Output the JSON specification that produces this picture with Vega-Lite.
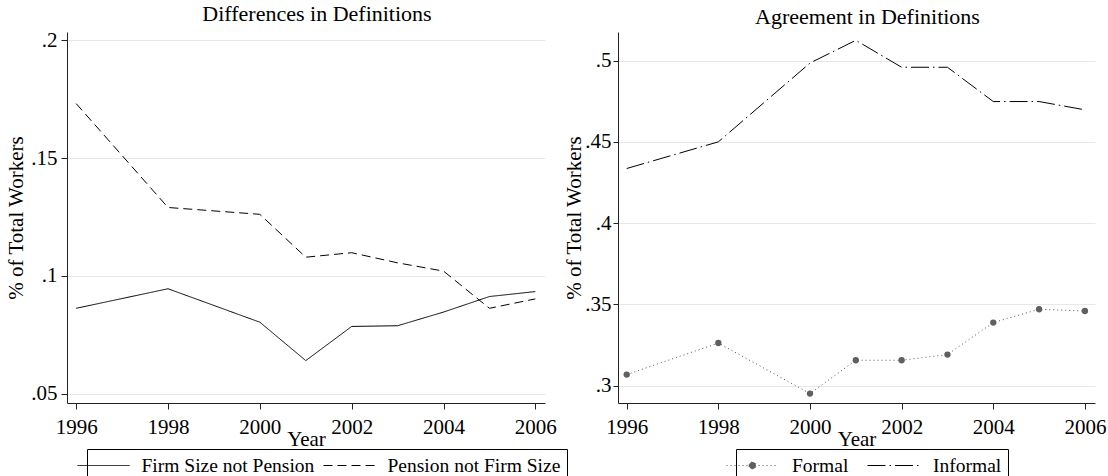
{
  "$schema": "https://vega.github.io/schema/vega-lite/v6.json",
  "padding": {"left": 5, "top": 3, "right": 5, "bottom": 5},
  "spacing": -5,
  "config": {
    "font": "Liberation Serif",
    "view": {"stroke": null},
    "style": {
      "guide-label": {"font": "Liberation Serif", "fill": "black"},
      "guide-title": {"font": "Liberation Serif", "fill": "black"},
      "group-title": {"font": "Liberation Serif", "fill": "black"}
    },
    "axis": {
      "labelFont": "Liberation Serif",
      "titleFont": "Liberation Serif",
      "labelFontSize": 21,
      "titleFontSize": 21,
      "titleFontWeight": "normal",
      "labelColor": "black",
      "titleColor": "black",
      "domainColor": "#222",
      "tickColor": "#222",
      "gridColor": "#e8e8e8",
      "tickSize": 6,
      "labelPadding": 3
    },
    "axisX": {"grid": false},
    "title": {"font": "Liberation Serif", "fontSize": 22, "fontWeight": "normal", "color": "black"},
    "legend": {
      "labelFont": "Liberation Serif",
      "labelFontSize": 19.5,
      "labelColor": "black",
      "labelLimit": 400,
      "orient": "none",
      "direction": "horizontal",
      "strokeColor": "black",
      "padding": 6,
      "symbolSize": 400,
      "symbolStrokeWidth": 1,
      "title": null
    }
  },
  "datasets": {
    "diff": [
      {"year": 1996, "value": 0.0862, "series": "Firm Size not Pension"},
      {"year": 1998, "value": 0.0945, "series": "Firm Size not Pension"},
      {"year": 2000, "value": 0.0803, "series": "Firm Size not Pension"},
      {"year": 2001, "value": 0.0640, "series": "Firm Size not Pension"},
      {"year": 2002, "value": 0.0785, "series": "Firm Size not Pension"},
      {"year": 2003, "value": 0.0788, "series": "Firm Size not Pension"},
      {"year": 2004, "value": 0.0846, "series": "Firm Size not Pension"},
      {"year": 2005, "value": 0.0912, "series": "Firm Size not Pension"},
      {"year": 2006, "value": 0.0933, "series": "Firm Size not Pension"},
      {"year": 1996, "value": 0.1731, "series": "Pension not Firm Size"},
      {"year": 1998, "value": 0.1290, "series": "Pension not Firm Size"},
      {"year": 2000, "value": 0.1261, "series": "Pension not Firm Size"},
      {"year": 2001, "value": 0.1079, "series": "Pension not Firm Size"},
      {"year": 2002, "value": 0.1098, "series": "Pension not Firm Size"},
      {"year": 2003, "value": 0.1055, "series": "Pension not Firm Size"},
      {"year": 2004, "value": 0.1020, "series": "Pension not Firm Size"},
      {"year": 2005, "value": 0.0862, "series": "Pension not Firm Size"},
      {"year": 2006, "value": 0.0902, "series": "Pension not Firm Size"}
    ],
    "agree": [
      {"year": 1996, "value": 0.3068, "series": "Formal"},
      {"year": 1998, "value": 0.3262, "series": "Formal"},
      {"year": 2000, "value": 0.2951, "series": "Formal"},
      {"year": 2001, "value": 0.3156, "series": "Formal"},
      {"year": 2002, "value": 0.3156, "series": "Formal"},
      {"year": 2003, "value": 0.3191, "series": "Formal"},
      {"year": 2004, "value": 0.3388, "series": "Formal"},
      {"year": 2005, "value": 0.3470, "series": "Formal"},
      {"year": 2006, "value": 0.3459, "series": "Formal"},
      {"year": 1996, "value": 0.4336, "series": "Informal"},
      {"year": 1998, "value": 0.4500, "series": "Informal"},
      {"year": 2000, "value": 0.4985, "series": "Informal"},
      {"year": 2001, "value": 0.5125, "series": "Informal"},
      {"year": 2002, "value": 0.4959, "series": "Informal"},
      {"year": 2003, "value": 0.4959, "series": "Informal"},
      {"year": 2004, "value": 0.4748, "series": "Informal"},
      {"year": 2005, "value": 0.4748, "series": "Informal"},
      {"year": 2006, "value": 0.4697, "series": "Informal"}
    ]
  },
  "hconcat": [
    {
      "width": 478,
      "height": 371,
      "title": {"text": "Differences in Definitions", "frame": "group", "dx": 11, "offset": 3},
      "data": {"name": "diff"},
      "mark": {"type": "line", "strokeWidth": 1, "color": "black"},
      "encoding": {
        "x": {
          "field": "year", "type": "quantitative",
          "scale": {"domain": [1995.8, 2006.21], "nice": false, "zero": false},
          "axis": {"values": [1996, 1998, 2000, 2002, 2004, 2006], "format": "d", "title": "Year", "labelPadding": 7, "titlePadding": -9, "grid": false, "labelFont": "Liberation Serif", "titleFont": "Liberation Serif"}
        },
        "y": {
          "field": "value", "type": "quantitative",
          "scale": {"domain": [0.046, 0.2035], "nice": false, "zero": false},
          "axis": {"values": [0.05, 0.1, 0.15, 0.2], "labelExpr": "replace(format(datum.value, '.2~f'), '0.', '.')", "title": "% of Total Workers", "tickSize": 6, "labelPadding": 4, "titlePadding": 4, "labelFont": "Liberation Serif", "titleFont": "Liberation Serif"}
        },
        "strokeDash": {
          "field": "series", "type": "nominal",
          "scale": {"domain": ["Firm Size not Pension", "Pension not Firm Size"], "range": [[1, 0], [9, 5]]},
          "legend": {
            "orient": "none",
            "legendX": 20,
            "legendY": 417,
            "direction": "horizontal",
            "symbolType": "M-2.6,0H2.6",
            "labelOffset": 27.5,
            "columnPadding": 6,
            "encode": {
              "symbols": {
                "update": {
                  "shape": {"value": "M-2.6,0H2.6"},
                  "fill": {"value": "transparent"},
                  "stroke": {"value": "black"},
                  "strokeWidth": {"value": 1}
                }
              }
            }
          }
        }
      }
    },
    {
      "width": 477,
      "height": 371,
      "title": {"text": "Agreement in Definitions", "frame": "group", "dx": 11, "offset": 3},
      "data": {"name": "agree"},
      "encoding": {
        "x": {
          "field": "year", "type": "quantitative",
          "scale": {"domain": [1995.81, 2006.22], "nice": false, "zero": false},
          "axis": {"values": [1996, 1998, 2000, 2002, 2004, 2006], "format": "d", "title": "Year", "labelPadding": 7, "titlePadding": -9, "grid": false, "labelFont": "Liberation Serif", "titleFont": "Liberation Serif"}
        },
        "y": {
          "field": "value", "type": "quantitative",
          "scale": {"domain": [0.2893, 0.5176], "nice": false, "zero": false},
          "axis": {"values": [0.3, 0.35, 0.4, 0.45, 0.5], "labelExpr": "replace(format(datum.value, '.2~f'), '0.', '.')", "title": "% of Total Workers", "tickSize": 5, "labelPadding": 2, "titlePadding": 0, "labelFont": "Liberation Serif", "titleFont": "Liberation Serif"}
        }
      },
      "layer": [
        {
          "mark": {"type": "line", "strokeWidth": 1},
          "encoding": {
            "strokeDash": {
              "field": "series", "type": "nominal",
              "scale": {"domain": ["Formal", "Informal"], "range": [[1, 3], [18, 4, 1.5, 4]]}
            },
            "color": {
              "field": "series", "type": "nominal",
              "scale": {"domain": ["Formal", "Informal"], "range": ["#555555", "black"]},
              "legend": {
                "orient": "none",
                "legendX": 118,
                "legendY": 417,
                "direction": "horizontal",
                "symbolType": "M-2.6,0H2.6",
                "labelOffset": 29,
                "columnPadding": 16,
                "encode": {
                  "symbols": {
                    "update": {
                      "shape": {"signal": "datum.value === 'Formal' ? 'M-2.6,0H2.6M-0.35,0A0.35,0.35 0 1,1 0.35,0A0.35,0.35 0 1,1 -0.35,0Z' : 'M-2.6,0H2.6'"},
                      "fill": {"signal": "datum.value === 'Formal' ? '#606060' : 'transparent'"},
                      "strokeWidth": {"value": 1}
                    }
                  }
                }
              }
            }
          }
        },
        {
          "transform": [{"filter": "datum.series === 'Formal'"}],
          "mark": {"type": "point", "filled": true, "size": 40, "color": "#606060", "opacity": 1}
        }
      ]
    }
  ],
  "resolve": {"scale": {"strokeDash": "independent", "color": "independent", "x": "independent", "y": "independent"}, "legend": {"strokeDash": "independent", "color": "independent"}}
}
